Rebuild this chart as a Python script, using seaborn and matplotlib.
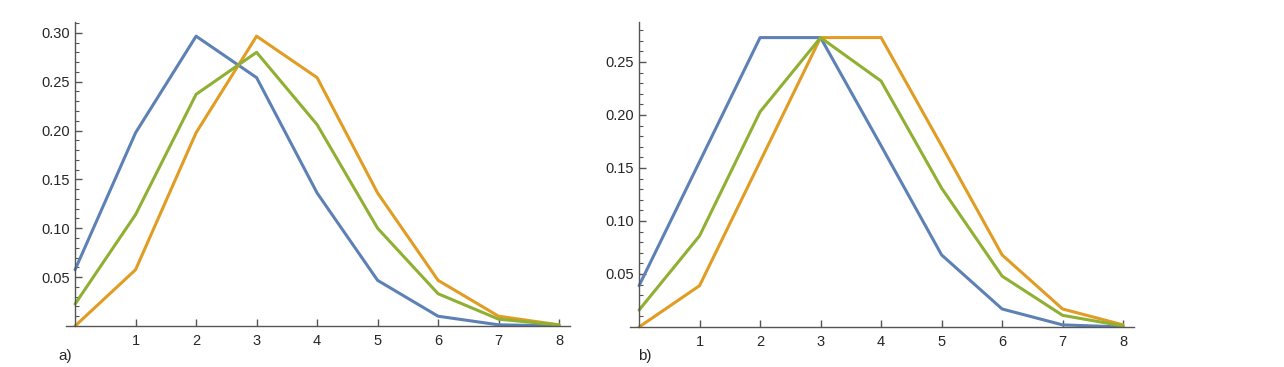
import matplotlib
matplotlib.use("Agg")
import matplotlib.pyplot as plt
import pandas as pd
import seaborn as sns

sns.set_style("white")
plt.rcParams["font.family"] = ["Liberation Sans", "DejaVu Sans"]

K = [0, 1, 2, 3, 4, 5, 6, 7, 8]

# panel a)
a_blue = [0.0576, 0.1977, 0.2965, 0.2541, 0.1361, 0.0467, 0.0100, 0.0012, 0.0001]
a_green = [0.0225, 0.114, 0.237, 0.280, 0.206, 0.100, 0.033, 0.007, 0.001]
a_orange = [0.0, 0.0576, 0.1977, 0.2965, 0.2541, 0.1361, 0.0467, 0.0100, 0.0012]

# panel b)
b_blue = [0.039, 0.156, 0.273, 0.273, 0.171, 0.068, 0.017, 0.002, 0.0]
b_green = [0.016, 0.086, 0.203, 0.273, 0.232, 0.131, 0.048, 0.011, 0.001]
b_orange = [0.0, 0.039, 0.156, 0.273, 0.273, 0.171, 0.068, 0.017, 0.002]

COLORS = {"blue": "#5E81B5", "orange": "#E19C24", "green": "#8FB032"}
AXCOL = "#555555"


def make_df(blue, green, orange):
    rows = []
    for name, vals in [("blue", blue), ("orange", orange), ("green", green)]:
        for k, v in zip(K, vals):
            rows.append({"k": k, "p": v, "s": name})
    return pd.DataFrame(rows)


def style_axes(ax, ytop, yticks, ylabels):
    ax.set_xlim(-0.15, 8.18)
    ax.set_ylim(0, ytop)
    for s in ["top", "right"]:
        ax.spines[s].set_visible(False)
    for s in ["left", "bottom"]:
        ax.spines[s].set_position(("data", 0))
        ax.spines[s].set_color(AXCOL)
        ax.spines[s].set_linewidth(1.0)
    ax.set_xticks(K[1:])
    ax.set_xticklabels([str(k) for k in K[1:]])
    ax.set_yticks(yticks)
    ax.set_yticklabels(ylabels)
    ax.set_yticks([i * 0.01 for i in range(1, int(ytop * 100) + 1)], minor=True)
    ax.tick_params(axis="both", which="major", direction="in", length=5,
                   color=AXCOL, labelsize=10.5, width=1.0,
                   bottom=True, left=True)
    ax.tick_params(axis="y", which="minor", direction="in", length=3,
                   color=AXCOL, width=0.8, left=True)
    ax.tick_params(axis="x", pad=6)
    ax.set_xlabel("")
    ax.set_ylabel("")
    leg = ax.get_legend()
    if leg is not None:
        leg.remove()


fig = plt.figure(figsize=(12.84, 3.67), dpi=100)
W, H = 1284, 367

ax1 = fig.add_axes([66 / W, (H - 326) / H, 504 / W, 304 / H])
sns.lineplot(data=make_df(a_blue, a_green, a_orange), x="k", y="p", hue="s",
             palette=COLORS, linewidth=2.2, ax=ax1)
style_axes(ax1, 0.311, [0.05, 0.10, 0.15, 0.20, 0.25, 0.30],
           ["0.05", "0.10", "0.15", "0.20", "0.25", "0.30"])

ax2 = fig.add_axes([630 / W, (H - 327) / H, 504 / W, 305 / H])
sns.lineplot(data=make_df(b_blue, b_green, b_orange), x="k", y="p", hue="s",
             palette=COLORS, linewidth=2.2, ax=ax2)
style_axes(ax2, 0.2877, [0.05, 0.10, 0.15, 0.20, 0.25],
           ["0.05", "0.10", "0.15", "0.20", "0.25"])

fig.text(58 / W, 1 - 356 / H, "a)", fontsize=11, va="center", ha="left")
fig.text(638 / W, 1 - 356 / H, "b)", fontsize=11, va="center", ha="left")

fig.savefig("out.png", dpi=100)
